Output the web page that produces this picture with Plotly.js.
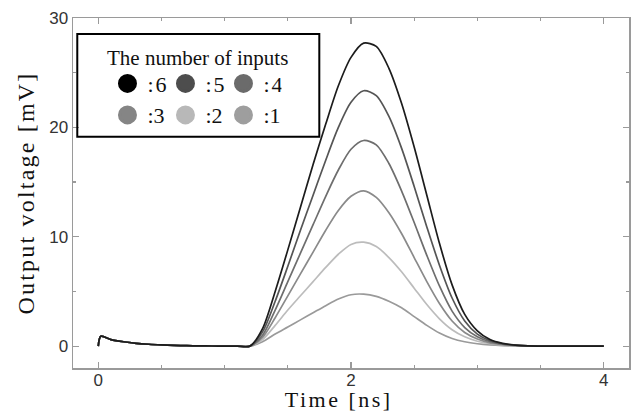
<!DOCTYPE html>
<html>
<head>
<meta charset="utf-8">
<script src="https://cdn.plot.ly/plotly-3.0.1.min.js"></script>
<style>
html,body{margin:0;padding:0;background:#fff;}
#chart{width:632px;height:412px;}
.ytitle{letter-spacing:2.2px;}
g.annotation[data-index="1"] text{letter-spacing:2.5px;}
.legendtext{letter-spacing:2px;}
</style>
</head>
<body>
<div id="chart"></div>
<script>
// Time axis [ns]
const timeNs = [0, 0.02, 0.1, 0.2, 0.3, 0.4, 0.5, 0.6, 0.7, 0.8, 0.9, 1.0, 1.1,
  1.2, 1.3, 1.4, 1.5, 1.6, 1.7, 1.8, 1.9, 2.0, 2.1, 2.2, 2.3, 2.4, 2.5, 2.6, 2.7, 2.8, 2.9,
  3.0, 3.1, 3.2, 3.3, 3.4, 3.6, 3.8, 4.0];
// Common lead-in (0 .. 1.1 ns) shared by all curves [mV]
const leadIn = [0, 0.9, 0.6, 0.4, 0.26, 0.17, 0.11, 0.07, 0.04, 0.02, 0.01, 0.005, 0.002];
// Pulse part (1.2 .. 4.0 ns) for each number of inputs [mV]
const pulse6 = [0, 1.6, 5.0, 8.8, 12.7, 16.6, 20.3, 23.8, 26.4, 27.7, 27.4, 25.4, 22.2, 18.2, 13.8, 9.4, 5.6, 2.9, 1.4, 0.6, 0.25, 0.1, 0.03, 0, 0, 0];
const pulse5 = [0, 1.3, 4.1, 7.3, 10.6, 13.8, 17.0, 20.0, 22.3, 23.35, 22.9, 21.0, 18.1, 14.6, 10.9, 7.4, 4.4, 2.3, 1.1, 0.5, 0.22, 0.09, 0.03, 0, 0, 0];
const pulse4 = [0, 1.0, 3.3, 5.9, 8.5, 11.1, 13.7, 16.1, 18.0, 18.8, 18.4, 16.7, 14.2, 11.3, 8.3, 5.5, 3.2, 1.7, 0.85, 0.4, 0.18, 0.07, 0.03, 0, 0, 0];
const pulse3 = [0, 0.8, 2.6, 4.6, 6.6, 8.6, 10.6, 12.4, 13.7, 14.2, 13.6, 12.2, 10.3, 8.1, 5.9, 3.9, 2.3, 1.25, 0.65, 0.3, 0.14, 0.06, 0.02, 0, 0, 0];
const pulse2 = [0, 0.6, 1.9, 3.3, 4.6, 5.9, 7.2, 8.4, 9.3, 9.5, 9.1, 8.1, 6.8, 5.3, 3.8, 2.5, 1.5, 0.85, 0.45, 0.22, 0.1, 0.05, 0.02, 0, 0, 0];
const pulse1 = [0, 0.4, 1.1, 1.75, 2.4, 3.05, 3.7, 4.3, 4.7, 4.75, 4.55, 4.1, 3.5, 2.7, 1.9, 1.2, 0.7, 0.4, 0.22, 0.11, 0.05, 0.02, 0.01, 0, 0, 0];

const seriesNames = [':1', ':2', ':3', ':4', ':5', ':6'];
const seriesPulses = [pulse1, pulse2, pulse3, pulse4, pulse5, pulse6];
const lineColors = ['#9a9a9a', '#bcbcbc', '#8a8a8a', '#6e6e6e', '#555555', '#1c1c1c'];
const markerColors = ['#9e9e9e', '#b8b8b8', '#858585', '#6b6b6b', '#4d4d4d', '#000000'];

const serif = 'Liberation Serif, Times New Roman, serif';
const sans = 'Liberation Sans, Arial, sans-serif';

const traces = [];
seriesPulses.forEach((p, i) => {
  traces.push({
    x: timeNs, y: leadIn.concat(p), type: 'scatter', mode: 'lines',
    line: {color: lineColors[i], width: 1.7, shape: 'spline', smoothing: 0.8},
    showlegend: false, hoverinfo: 'skip'
  });
});
// legend-only marker entries: row 1 (6,5,4), row 2 (3,2,1)
const legendOrder = [5, 4, 3, 2, 1, 0];
legendOrder.forEach((i, k) => {
  traces.push({
    x: [null], y: [null], type: 'scatter', mode: 'markers', name: seriesNames[i],
    marker: {color: markerColors[i], size: 16, line: {color: markerColors[i], width: 3}},
    legend: k < 3 ? 'legend' : 'legend2'
  });
});

const axisCommon = {
  showline: true, linecolor: '#9a9a9a', linewidth: 1.5, mirror: 'ticks',
  ticks: 'inside', tickcolor: '#9a9a9a', tickwidth: 1.2, ticklen: 6,
  showgrid: false, zeroline: false,
  tickfont: {family: sans, size: 17, color: '#333'}
};

const legendCommon = {
  orientation: 'h', xanchor: 'left', yanchor: 'middle', bgcolor: 'rgba(0,0,0,0)',
  borderwidth: 0, entrywidth: 13, itemsizing: 'trace',
  font: {family: serif, size: 22, color: '#111'}
};

const layout = {
  width: 632, height: 412,
  margin: {l: 73, r: 3, t: 18, b: 44},
  paper_bgcolor: '#fff', plot_bgcolor: '#fff',
  xaxis: Object.assign({}, axisCommon, {
    range: [-0.2, 4.2], tickvals: [0, 2, 4], ticktext: ['0', '2', '4'], ticklabelstandoff: -4,
    minor: {dtick: 0.5, tick0: 0, ticks: 'inside', ticklen: 3, tickcolor: '#9a9a9a'}
  }),
  yaxis: Object.assign({}, axisCommon, {
    range: [-2, 30], tickvals: [0, 10, 20, 30],
    minor: {dtick: 5, tick0: 0, ticks: 'inside', ticklen: 3, tickcolor: '#9a9a9a'},
    title: {text: 'Output voltage [mV]', font: {family: serif, size: 24, color: '#111'}, standoff: 8}
  }),
  legend: Object.assign({}, legendCommon, {x: 0.062, y: 0.8126}),
  legend2: Object.assign({}, legendCommon, {x: 0.062, y: 0.7226}),
  shapes: [{type: 'rect', xref: 'paper', yref: 'paper', x0: 0.0077, x1: 0.443, y0: 0.661, y1: 0.954,
    line: {color: '#000', width: 2}, fillcolor: 'rgba(0,0,0,0)', layer: 'above'}],
  annotations: [
    {xref: 'paper', yref: 'paper', x: 0.224, y: 0.886, xanchor: 'center', yanchor: 'middle',
      text: 'The number of inputs', showarrow: false, font: {family: serif, size: 21, color: '#111'}},
    {xref: 'paper', yref: 'paper', x: 0.4775, y: 0, xanchor: 'center', yanchor: 'top', yshift: -17,
      text: 'Time [ns]', showarrow: false, font: {family: serif, size: 22, color: '#111'}}
  ]
};

Plotly.newPlot('chart', traces, layout, {staticPlot: true});
</script>
</body>
</html>
